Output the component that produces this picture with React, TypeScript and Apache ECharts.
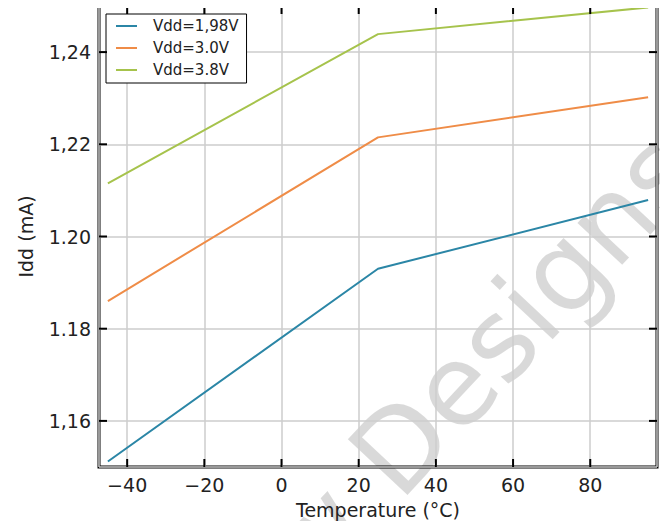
import React, { useEffect, useRef } from "react";
import * as echarts from "echarts";

const temps = [-45, 25, 95];
const vdd198 = [1.1512, 1.193, 1.2079];
const vdd30 = [1.186, 1.2215, 1.2302];
const vdd38 = [1.2115, 1.2439, 1.2497];
const seriesNames = ["Vdd=1,98V", "Vdd=3.0V", "Vdd=3.8V"];
const seriesColors = ["#2b86a6", "#ef8c47", "#a6c34c"];
const xTicks = [-40, -20, 0, 20, 40, 60, 80];
const xTickLabels = ["\u221240", "\u221220", "0", "20", "40", "60", "80"];
const yTicks = [1.16, 1.18, 1.2, 1.22, 1.24];
const yTickLabels = ["1,16", "1.18", "1.20", "1,22", "1,24"];

const FONT = "DejaVu Sans";

function nearestLabel(v: number, ticks: number[], labels: string[]) {
  let best = 0;
  for (let i = 1; i < ticks.length; i++) {
    if (Math.abs(ticks[i] - v) < Math.abs(ticks[best] - v)) best = i;
  }
  return labels[best];
}

export default function App() {
  const ref = useRef<HTMLDivElement>(null);
  useEffect(() => {
    if (!ref.current) return;
    const chart = echarts.init(ref.current, undefined, { renderer: "svg" });
    const xMin = -47.3;
    const xMax = 97.3;
    const yMin = 1.15;
    const yMax = 1.25;
    const allSeries = [vdd198, vdd30, vdd38];
    const WM = 112;
    const gridLine = { show: true, lineStyle: { color: "#cccccc", width: 1.5 } };
    const watermark = {
      type: "group",
      x: 400,
      y: 503,
      rotation: (47 * Math.PI) / 180,
      z: 100,
      silent: true,
      children: [
        {
          type: "text",
          x: 0,
          y: Math.round(WM * 0.154),
          style: {
            text: "Designs",
            font: `${WM}px "${FONT}"`,
            fill: "rgba(0,0,0,0.15)",
            textAlign: "left",
            textVerticalAlign: "bottom",
          },
        },
        {
          type: "text",
          x: -Math.round(WM * 0.318),
          y: Math.round(WM * 0.154),
          style: {
            text: "New",
            font: `${WM}px "${FONT}"`,
            fill: "rgba(0,0,0,0.15)",
            textAlign: "right",
            textVerticalAlign: "bottom",
          },
        },
      ],
    };
    const option: any = {
      animation: false,
      backgroundColor: "#fff",
      grid: {
        left: 99,
        right: 11,
        top: 6,
        bottom: 62,
        show: true,
        borderColor: "#000",
        borderWidth: 3,
        backgroundColor: "transparent",
      },
      legend: {
        data: seriesNames,
        orient: "vertical",
        left: 106,
        top: 14,
        icon: "rect",
        itemWidth: 21,
        itemHeight: 2,
        itemGap: 6,
        padding: [4, 8, 5, 10],
        borderColor: "#000",
        borderWidth: 1,
        borderRadius: 0,
        backgroundColor: "#fff",
        z: 20,
        textStyle: {
          fontFamily: FONT,
          fontSize: 15,
          color: "#222",
          lineHeight: 16,
          padding: [0, 0, 0, 11],
        },
      },
      xAxis: {
        type: "value",
        min: xMin,
        max: xMax,
        splitNumber: 7,
        position: "bottom",
        axisLine: { show: false, onZero: false },
        axisTick: { show: false },
        axisLabel: {
          formatter: (v: number) => nearestLabel(v, xTicks, xTickLabels),
          showMinLabel: false,
          showMaxLabel: false,
          margin: 8,
          color: "#222",
          fontSize: 19,
          fontFamily: FONT,
        },
        splitLine: gridLine,
        name: "Temperature (°C)",
        nameLocation: "middle",
        nameGap: 33,
        nameTextStyle: { fontFamily: FONT, fontSize: 19, color: "#222", lineHeight: 19 },
      },
      yAxis: {
        type: "value",
        min: yMin,
        max: yMax,
        splitNumber: 5,
        position: "left",
        axisLine: { show: false, onZero: false },
        axisTick: { show: false },
        axisLabel: {
          formatter: (v: number) => nearestLabel(v, yTicks, yTickLabels),
          showMinLabel: false,
          showMaxLabel: false,
          margin: 8,
          color: "#222",
          fontSize: 19,
          fontFamily: FONT,
        },
        splitLine: gridLine,
        name: "Idd (mA)",
        nameLocation: "middle",
        nameGap: 64,
        nameTextStyle: { fontFamily: FONT, fontSize: 19, color: "#222" },
      },
      series: allSeries.map((vals, i) => ({
        name: seriesNames[i],
        type: "line",
        z: 5,
        data: temps.map((t, j) => [t, vals[j]]),
        showSymbol: false,
        symbol: "none",
        clip: true,
        color: seriesColors[i],
        lineStyle: { color: seriesColors[i], width: 2 },
      })),
      graphic: [watermark],
    };
    chart.setOption(option);

    // Tick marks on all four sides, placed through the axes' own scales.
    const toX = (v: number) => chart.convertToPixel({ xAxisIndex: 0 }, v) as number;
    const toY = (v: number) => chart.convertToPixel({ yAxisIndex: 0 }, v) as number;
    const left = toX(xMin);
    const right = toX(xMax);
    const top = toY(yMax);
    const bottom = toY(yMin);
    const L = 8;
    const tickStyle = { stroke: "#000", lineWidth: 2 };
    const ticks: any[] = [];
    xTicks.forEach((v) => {
      const px = toX(v);
      ticks.push({ type: "line", z: 50, silent: true, shape: { x1: px, y1: bottom, x2: px, y2: bottom - L }, style: tickStyle });
      ticks.push({ type: "line", z: 50, silent: true, shape: { x1: px, y1: top, x2: px, y2: top + L }, style: tickStyle });
    });
    yTicks.forEach((v) => {
      const py = toY(v);
      ticks.push({ type: "line", z: 50, silent: true, shape: { x1: left, y1: py, x2: left + L, y2: py }, style: tickStyle });
      ticks.push({ type: "line", z: 50, silent: true, shape: { x1: right, y1: py, x2: right - L, y2: py }, style: tickStyle });
    });
    chart.setOption({ graphic: [watermark, ...ticks] });

    return () => chart.dispose();
  }, []);
  return <div ref={ref} style={{ width: 668, height: 529, margin: -8 }} />;
}
